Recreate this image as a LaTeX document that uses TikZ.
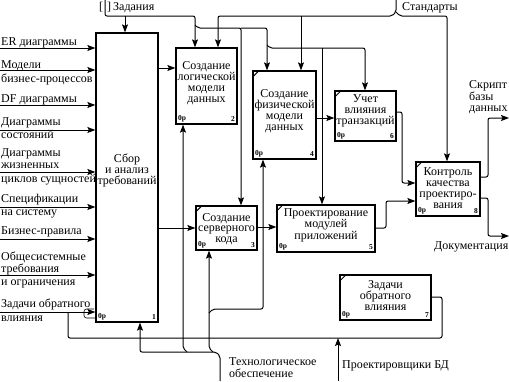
\documentclass[tikz,border=0pt]{standalone}
\usepackage{fontspec}
\setmainfont{Liberation Serif}
\usetikzlibrary{arrows.meta}

\tikzset{
  func/.style={draw,line width=1.3pt,inner sep=0pt},
  ftext/.style={align=center,inner sep=0pt,font=\fontsize{12}{10.8}\selectfont},
  lbl/.style={anchor=base west,inner sep=0pt,font=\fontsize{12}{10.8}\selectfont},
  cost/.style={inner sep=0pt,font=\fontsize{7.5}{8}\selectfont\bfseries},
  arr/.style={line width=1pt,rounded corners=2pt},
  tick/.style={line width=1pt},
}

\begin{document}
\begin{tikzpicture}[x=1pt,y=-1pt,>={Stealth[length=8pt,width=6pt,inset=1.5pt]}]
\useasboundingbox (0,0) rectangle (509,381);

% блоки
\node[func,minimum width=62pt,minimum height=289pt] (b1) at (127,177.5) {};
\node[func,minimum width=61pt,minimum height=76pt] (b2) at (206.5,86) {};
\node[func,minimum width=61pt,minimum height=44pt] (b3) at (226.5,228) {};
\node[func,minimum width=63pt,minimum height=88pt] (b4) at (284.5,115) {};
\node[func,minimum width=98pt,minimum height=47pt] (b5) at (326,228.5) {};
\node[func,minimum width=61pt,minimum height=50pt] (b6) at (365.5,116) {};
\node[func,minimum width=91pt,minimum height=45pt] (b7) at (385.5,297.5) {};
\node[func,minimum width=64pt,minimum height=54pt] (b8) at (448,189) {};
\foreach \b in {b3,b4,b5,b6,b7,b8}
  \draw[tick] ([yshift=-7pt]\b.north west) -- ([xshift=7pt]\b.north west);

\node[ftext,yshift=7pt] (t1) at (b1) {Сбор\\и анализ\\требований};
\node[ftext,yshift=3pt] (t2) at (b2) {Создание\\логической\\модели\\данных};
\node[ftext,yshift=-1pt] (t3) at (b3) {Создание\\серверного\\кода};
\node[ftext,yshift=4pt] (t4) at (b4) {Создание\\физической\\модели\\данных};
\node[ftext,yshift=3pt] (t5) at (b5) {Проектирование\\модулей\\приложений};
\node[ftext,yshift=5pt] (t6) at (b6) {Учет\\влияния\\транзакций};
\node[ftext,yshift=2pt] (t7) at (b7) {Задачи\\обратного\\влияния};
\node[ftext,yshift=1pt] (t8) at (b8) {Контроль\\качества\\проектиро-\\вания};

\foreach \b/\n in {b1/1,b2/2,b3/3,b4/4,b5/5,b6/6,b7/7,b8/8}{
  \node[cost,anchor=south west] (c\n) at ([shift={(2.5pt,2.5pt)}]\b.south west) {0р};
  \node[cost,anchor=south east] (n\n) at ([shift={(-2.5pt,2.5pt)}]\b.south east) {\n};
}

% входы
\foreach \y [count=\i] in {48,70,105,130,172,207,239,275,312}{
  \coordinate (in\i) at (0,\y);
  \draw[arr,->] (in\i) -- (b1.west |- in\i);
}
\draw[line width=0.6pt,rounded corners=2.5pt] (94,309) -- (84,309) -- (84,318) -- (95,318);

\node[lbl] (l1) at (1,45) {ER диаграммы};
\node[lbl] (l2a) at (1,68.5) {Модели};
\node[lbl] (l2b) at (1,82.5) {бизнес-процессов};
\node[lbl] (l3) at (1,102.5) {DF диаграммы};
\node[lbl] (l4a) at (1,125) {Диаграммы};
\node[lbl] (l4b) at (1,138.5) {состояний};
\node[lbl] (l5a) at (1,156.5) {Диаграммы};
\node[lbl] (l5b) at (1,168) {жизненных};
\node[lbl] (l5c) at (1,182) {циклов сущностей};
\node[lbl] (l6a) at (1,202.5) {Спецификации};
\node[lbl] (l6b) at (1,215) {на систему};
\node[lbl] (l7) at (1,234.5) {Бизнес-правила};
\node[lbl] (l8a) at (1,260.5) {Общесистемные};
\node[lbl] (l8b) at (1,272) {требования};
\node[lbl] (l8c) at (1,285) {и ограничения};
\node[lbl] (l9a) at (1,307) {Задачи обратного};
\node[lbl] (l9b) at (1,321) {влияния};

% Задания
\coordinate (zad) at (105,0);
\node[lbl] (zadT) at (99,10.5) {[\kern4pt]\kern2pt Задания};
\draw[arr,->] (zad) -- (105,16) -- (195,16) -- (195,0 |- b2.north);
\draw[arr,->] (125,16) -- (125,0 |- b1.north);
\draw[arr,->] (195,25) -- (198,28) -- (241,28) -- (241,0 |- b3.north);
\draw[arr,->] (241,28) -- (267,28) -- (267,0 |- b4.north);
\draw[arr,->] (267,45) -- (270,48) -- (365,48) -- (365,0 |- b6.north);
\draw[arr,->] (322,48) -- (322,0 |- b5.north);

% Стандарты
\coordinate (std) at (396,0);
\node[lbl] (stdT) at (402,10.5) {Стандарты};
\draw[arr,->] (std) -- (396,12) -- (392,16) -- (218,16) -- (218,0 |- b2.north);
\draw[arr,->] (396,12) -- (400,16) -- (447,16) -- (447,0 |- b8.north);
\draw[arr,->] (301,16) -- (301,0 |- b4.north);

% связи между блоками
\draw[arr,->] (b1.east |- 0,68) -- (b2.west |- 0,68);
\draw[arr,->] (b1.east |- 0,228) -- (b3.west |- 0,228);
\draw[arr,->] (b3.east |- 0,227) -- (b5.west |- 0,227);
\draw[arr,->] (b4.east |- 0,118) -- (b6.west |- 0,118);
\draw[arr,->] (b5.east |- 0,228) -- (386,228) -- (386,201) -- (b8.west |- 0,201);
\draw[arr,->] (b6.east |- 0,112) -- (402,112) -- (402,183) -- (b8.west |- 0,183);

% выходы
\coordinate (scr) at (509,118);
\coordinate (doc) at (509,236);
\draw[arr,->] (b8.east |- 0,177) -- (488,177) -- (488,118) -- (scr);
\draw[arr,->] (b8.east |- 0,198) -- (488,198) -- (488,236) -- (doc);
\node[lbl] (scrA) at (469,88.5) {Скрипт};
\node[lbl] (scrB) at (469,100) {базы};
\node[lbl] (scrC) at (469,111) {данных};
\node[lbl,anchor=base east] (docT) at (508.5,249.5) {Документация};

% обратная связь
\draw[arr] (b7.east |- 0,297) -- (442,297) -- (442,338) -- (68,338) -- (68,312);

% механизмы
\coordinate (teh) at (220,381);
\draw[arr,->] (teh) -- (220,356) -- (216,352) -- (140,352) -- (140,0 |- b1.south);
\draw[arr,->] (187,352) -- (183,348) -- (183,0 |- b2.south);
\draw[arr,->] (213,352) -- (209,348) -- (209,0 |- b3.south);
\draw[arr,->] (209,313) -- (213,309) -- (263,309) -- (263,0 |- b4.south);
\node[lbl] (tehA) at (229,365) {Технологическое};
\node[lbl] (tehB) at (229,377.5) {обеспечение};

\coordinate (prj) at (338,381);
\draw[arr,->] (prj) -- (338,338);
\node[lbl] (prjT) at (342,368.5) {Проектировщики БД};
\end{tikzpicture}
\end{document}
